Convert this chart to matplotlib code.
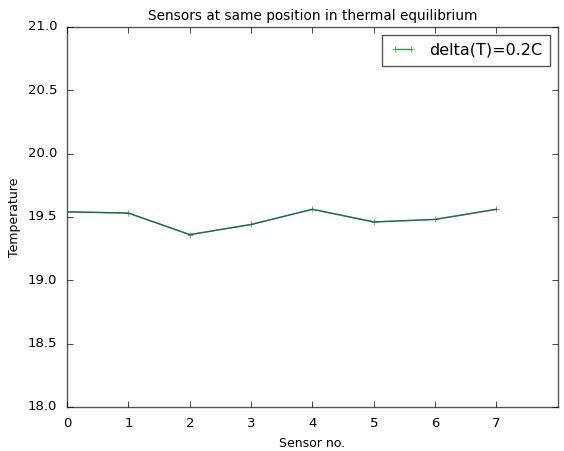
import matplotlib
matplotlib.use("Agg")
import matplotlib.pyplot as plt

plt.style.use("classic")

# Temperature readings of each sensor
sensors = [0, 1, 2, 3, 4, 5, 6, 7]
temps = [19.54, 19.53, 19.36, 19.44, 19.56, 19.46, 19.48, 19.56]

fig = plt.figure(figsize=(5.64, 4.51), dpi=100, facecolor="white")
ax = fig.add_axes([0.119, 0.0976, 0.87, 0.843])

ax.plot(sensors, temps, color="#2ca02c", marker="+", markersize=4,
        linewidth=1.0, label="delta(T)=0.2C")
ax.plot(sensors, temps, color="#1f3f6f", linewidth=1.0, alpha=0.6)

ax.set_xlim(0, 8)
ax.set_ylim(18.0, 21.0)
ax.set_xticks(range(8))
ax.set_yticks([18.0, 18.5, 19.0, 19.5, 20.0, 20.5, 21.0])
ax.tick_params(labelsize=9.5, pad=7)
for s in ax.spines.values():
    s.set_color("#555555")

ax.set_title("Sensors at same position in thermal equilibrium", fontsize=9.8)
ax.set_xlabel("Sensor no.", fontsize=9)
ax.set_ylabel("Temperature", fontsize=9)
leg = ax.legend(loc="upper right", fontsize=11.5, numpoints=2,
                handlelength=1.6, borderpad=0.5)
leg.get_frame().set_edgecolor("#555555")

fig.savefig("out.png", dpi=100, facecolor="white")
